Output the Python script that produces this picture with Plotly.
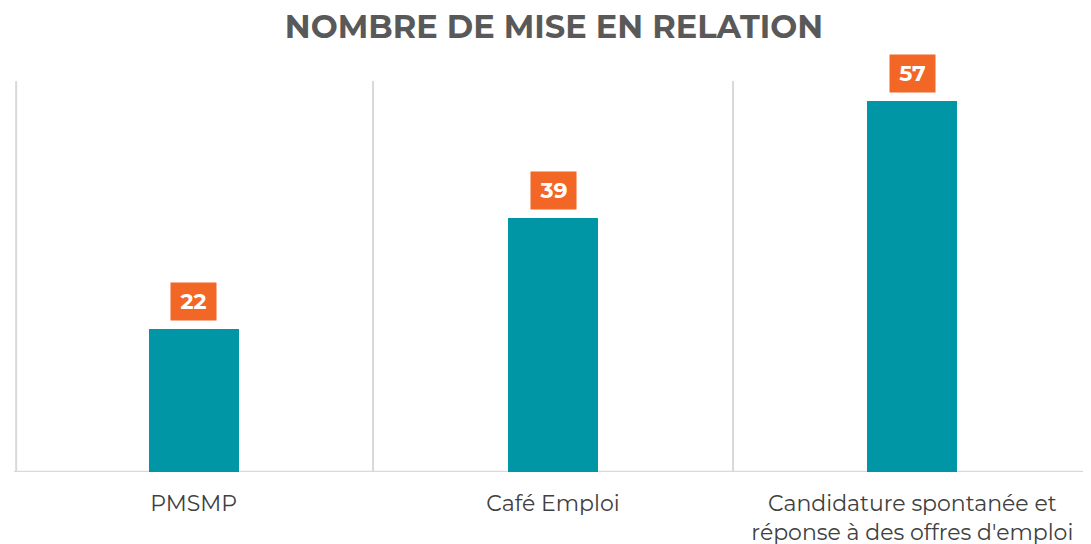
import plotly.graph_objects as go

categories = ["PMSMP", "Café Emploi", "Candidature spontanée et<br>réponse à des offres d'emploi"]
values = [22, 39, 57]
title_text = "NOMBRE DE MISE EN RELATION"

BAR = "#0096A6"
ORANGE = "#F26726"
GRID = "#D9D9D9"
FONT = "Montserrat, 'Open Sans', sans-serif"

fig = go.Figure()
fig.add_trace(go.Bar(x=categories, y=values, marker=dict(color=BAR, line=dict(width=0)),
                     width=0.25, hoverinfo="skip"))

for c, v in zip(categories, values):
    fig.add_annotation(x=c, y=v, xref="x", yref="y", text=f"<b>{v}</b>",
                       showarrow=False, yanchor="bottom", yshift=8,
                       bgcolor=ORANGE, borderpad=5, width=35, height=27,
                       font=dict(family=FONT, size=22, color="white"))

fig.update_layout(
    width=1091, height=544,
    margin=dict(l=6, r=7, t=73, b=80, autoexpand=False),
    paper_bgcolor="white", plot_bgcolor="white",
    showlegend=False,
    title=dict(text=f"<b>{title_text}</b>", x=546 / 1091, xanchor="center",
               y=1 - 19 / 544, yanchor="middle", yref="container", xref="container",
               font=dict(family=FONT, size=32, color="#595959")),
    xaxis=dict(range=[-0.5, 2.5], tickson="boundaries", showgrid=True, gridcolor=GRID, gridwidth=2,
               showline=False, ticks="", zeroline=False, automargin=False,
               ticklabelstandoff=16,
               tickfont=dict(family=FONT, size=22, color="#404040")),
    yaxis=dict(range=[0, 60], showgrid=False, zeroline=False, showticklabels=False,
               showline=False, ticks="", automargin=False),
    bargap=0,
)
fig.add_shape(type="line", xref="paper", yref="y", x0=0, x1=1, y0=0, y1=0,
              line=dict(color=GRID, width=2.5), layer="below")
fig.add_shape(type="line", xref="paper", yref="paper", x0=0.002, x1=0.002, y0=0, y1=1,
              line=dict(color=GRID, width=2), layer="below")

fig.write_html("out.html")
